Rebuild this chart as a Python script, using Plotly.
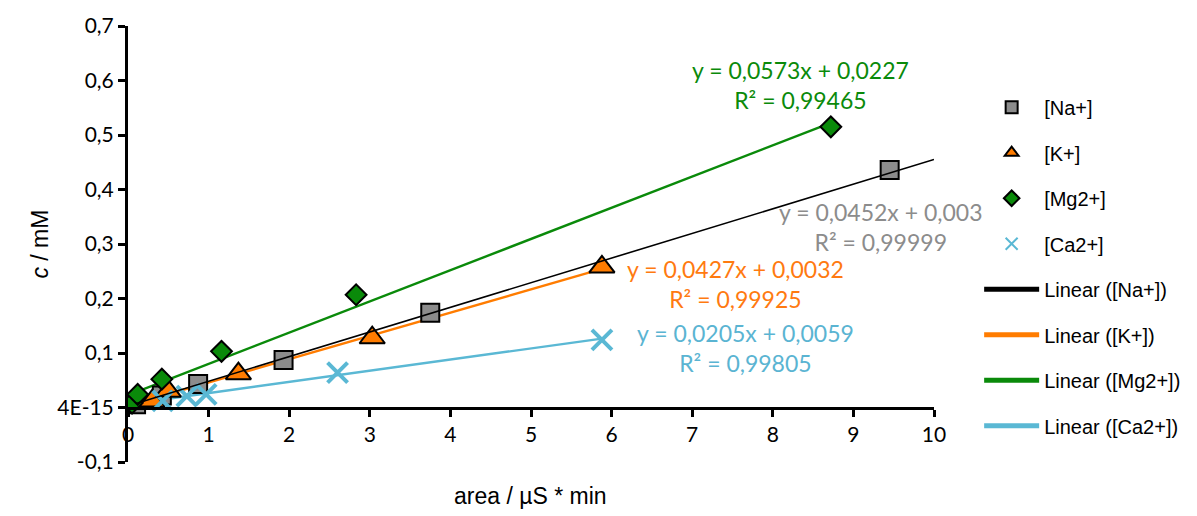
import plotly.graph_objects as go
import numpy as np

# ---- data ----
x_ticks = [0, 1, 2, 3, 4, 5, 6, 7, 8, 9, 10]
y_ticks = [-0.1, 0.0, 0.1, 0.2, 0.3, 0.4, 0.5, 0.6, 0.7]
y_tick_labels = ["-0,1", "4E-15", "0,1", "0,2", "0,3", "0,4", "0,5", "0,6", "0,7"]

na_x = [0.10, 0.42, 0.87, 1.93, 3.75, 9.45]
na_y = [0.006, 0.022, 0.043, 0.087, 0.174, 0.436]
k_x = [0.30, 0.50, 1.37, 3.03, 5.88]
k_y = [0.012, 0.030, 0.062, 0.128, 0.258]
mg_x = [0.05, 0.12, 0.42, 1.16, 2.83, 8.72]
mg_y = [0.008, 0.024, 0.052, 0.103, 0.207, 0.515]
ca_x = [0.43, 0.73, 0.97, 2.60, 5.88]
ca_y = [0.012, 0.021, 0.024, 0.064, 0.124]

names = ["[Na+]", "[K+]", "[Mg2+]", "[Ca2+]"]
slopes = [0.0452, 0.0427, 0.0573, 0.0205]
intercepts = [0.003, 0.0032, 0.0227, 0.0059]
r2_values = ["0,99999", "0,99925", "0,99465", "0,99805"]
eq_labels = ["y = 0,0452x + 0,003", "y = 0,0427x + 0,0032",
             "y = 0,0573x + 0,0227", "y = 0,0205x + 0,0059"]
forecast_to = [10, None, None, None]

# ---- styles ----
marker_colors = ["#8c8c8c", "#ff7c00", "#0a8a0a", "#5ab8d4"]
line_colors = ["#000000", "#ff7c00", "#0a8a0a", "#5ab8d4"]
text_colors = ["#8c8c8c", "#ff7a10", "#0a8a0a", "#5ab4d2"]
symbols = ["square", "triangle-up", "diamond", "x-thin"]
sizes = [18, 22, 16, 20]
line_widths = [1.6, 2.4, 2.4, 2.4]
label_pos = [(9.33, 0.332), (7.54, 0.226), (8.34, 0.591), (7.66, 0.110)]

series_x = [na_x, k_x, mg_x, ca_x]
series_y = [na_y, k_y, mg_y, ca_y]

fig = go.Figure()

# trendlines (coloured ones first)
for i in [1, 2, 3]:
    x0 = min(series_x[i])
    x1 = forecast_to[i] if forecast_to[i] else max(series_x[i])
    xs = np.array([x0, x1])
    fig.add_trace(go.Scatter(
        x=xs, y=slopes[i] * xs + intercepts[i], mode="lines",
        line=dict(color=line_colors[i], width=line_widths[i]),
        name="Linear (" + names[i] + ")", legendrank=10 + i,
        legendgroup="l" + str(i)))

# markers
for i in range(4):
    if symbols[i] == "x-thin":
        mk = dict(symbol="x-thin", size=sizes[i], color=marker_colors[i],
                  line=dict(color=marker_colors[i], width=4))
    else:
        mk = dict(symbol=symbols[i], size=sizes[i], color=marker_colors[i],
                  line=dict(color="black", width=2))
    fig.add_trace(go.Scatter(
        x=series_x[i], y=series_y[i], mode="markers", marker=mk,
        name=names[i], legendrank=i, legendgroup="m" + str(i)))

# black trendline on top
i = 0
x0 = min(series_x[i])
x1 = forecast_to[i] if forecast_to[i] else max(series_x[i])
xs = np.array([x0, x1])
fig.add_trace(go.Scatter(
    x=xs, y=slopes[i] * xs + intercepts[i], mode="lines",
    line=dict(color=line_colors[i], width=line_widths[i]),
    name="Linear (" + names[i] + ")", legendrank=10,
    legendgroup="l0"))

# equation labels
for i in range(4):
    fig.add_annotation(
        x=label_pos[i][0], y=label_pos[i][1], xref="x", yref="y",
        text=eq_labels[i] + "<br>R² = " + r2_values[i],
        showarrow=False, align="center",
        font=dict(family="Lato", size=23, color=text_colors[i]))

# axis titles
fig.add_annotation(
    x=0.499, y=-0.077, xref="paper", yref="paper", xanchor="center",
    yanchor="middle", text="area / µS * min", showarrow=False,
    font=dict(family="Liberation Sans", size=23, color="black"))
fig.add_annotation(
    x=-0.109, y=0.499, xref="paper", yref="paper", xanchor="center",
    yanchor="middle", text="<i>c</i> / mM", textangle=-90, showarrow=False,
    font=dict(family="Liberation Sans", size=23, color="black"))

fig.update_layout(
    width=1197, height=516,
    margin=dict(l=128, r=263, t=17, b=54),
    plot_bgcolor="white", paper_bgcolor="white",
    showlegend=True,
    legend=dict(
        xref="container", yref="container", x=0.818, y=0.83,
        xanchor="left", yanchor="top",
        font=dict(family="Liberation Sans", size=20, color="black"),
        itemsizing="constant", traceorder="grouped", tracegroupgap=16.5,
        itemwidth=55, bgcolor="rgba(0,0,0,0)", maxheight=480),
    xaxis=dict(
        range=[0, 10], tickvals=x_ticks, ticktext=[str(v) for v in x_ticks],
        anchor="free", position=0.125,
        showline=True, linecolor="black", linewidth=3,
        ticks="outside", ticklen=7, tickwidth=3, tickcolor="black",
        showgrid=False, zeroline=False,
        tickfont=dict(family="Lato", size=21, color="black")),
    yaxis=dict(
        range=[-0.1, 0.7], tickvals=y_ticks, ticktext=y_tick_labels,
        showline=True, linecolor="black", linewidth=3,
        ticks="outside", ticklen=7, tickwidth=3, tickcolor="black",
        showgrid=False, zeroline=False,
        tickfont=dict(family="Lato", size=21, color="black")),
)

fig.write_html("out.html")
